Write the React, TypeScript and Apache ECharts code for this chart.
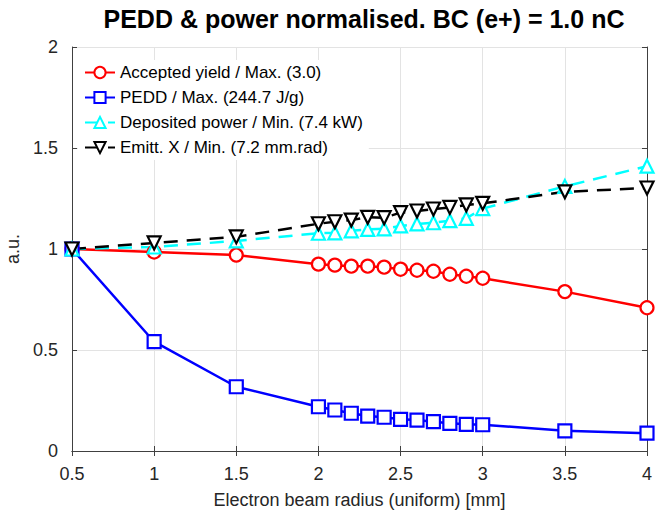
import React, { useEffect, useRef } from "react";
import * as echarts from "echarts";

const radius = [0.5, 1, 1.5, 2, 2.1, 2.2, 2.3, 2.4, 2.5, 2.6, 2.7, 2.8, 2.9, 3, 3.5, 4];
const acceptedYield = [1.0, 0.985, 0.97, 0.925, 0.92, 0.915, 0.915, 0.91, 0.9, 0.895, 0.89, 0.875, 0.865, 0.855, 0.789, 0.709];
const pedd = [1.0, 0.541, 0.318, 0.219, 0.203, 0.187, 0.173, 0.167, 0.157, 0.153, 0.145, 0.137, 0.132, 0.13, 0.1, 0.088];
const depPower = [1.0, 1.01, 1.04, 1.078, 1.08, 1.09, 1.097, 1.1, 1.114, 1.124, 1.13, 1.14, 1.152, 1.2, 1.31, 1.41];
const emittX = [1.0, 1.03, 1.06, 1.125, 1.135, 1.143, 1.157, 1.155, 1.18, 1.188, 1.198, 1.206, 1.218, 1.226, 1.283, 1.302];

const seriesNames = [
  "Accepted yield / Max. (3.0)",
  "PEDD / Max. (244.7 J/g)",
  "Deposited power / Min. (7.4 kW)",
  "Emitt. X / Min. (7.2 mm.rad)",
];

const pair = (ys: number[]) => radius.map((x, i) => [x, ys[i]]);

export default function App() {
  const ref = useRef<HTMLDivElement>(null);
  useEffect(() => {
    if (!ref.current) return;
    const chart = echarts.init(ref.current, undefined, { renderer: "svg" });
    const font = "Liberation Sans, Arial, Helvetica, sans-serif";
    const axisColor = "#404040";
    const mk = (
      name: string,
      ys: number[],
      color: string,
      symbol: string,
      dashed: boolean,
      rotate = 0
    ) => ({
      name,
      type: "line",
      data: pair(ys),
      symbol,
      symbolSize: 13,
      symbolRotate: rotate,
      showAllSymbol: true,
      lineStyle: { color, width: 2.5, type: dashed ? [14, 9] : "solid" },
      itemStyle: { color: "#fff", borderColor: color, borderWidth: 2.2 },
      emphasis: { disabled: true },
      z: 3,
    });
    chart.setOption({
      animation: false,
      backgroundColor: "#fff",
      textStyle: { fontFamily: font },
      title: {
        text: "PEDD & power normalised. BC (e+) = 1.0 nC",
        left: 359,
        textAlign: "center",
        top: 1,
        textStyle: { fontSize: 25, fontWeight: "bold", color: "#000", fontFamily: font },
      },
      grid: { left: 72, right: 9, top: 47, bottom: 66, outerBoundsMode: "none", containLabel: false },
      legend: {
        left: 78,
        top: 60,
        orient: "vertical",
        itemWidth: 30,
        itemHeight: 14,
        itemGap: 8,
        backgroundColor: "#fff",
        padding: [4, 6, 4, 6],
        textStyle: { fontSize: 17, color: "#000", fontFamily: font },
        data: seriesNames,
        selectedMode: false,
      },
      xAxis: [
        {
          type: "value",
          min: 0.5,
          max: 4,
          interval: 0.5,
          name: "Electron beam radius (uniform) [mm]",
          nameLocation: "middle",
          nameGap: 40,
          nameMoveOverlap: false,
          nameTextStyle: { fontSize: 18, color: "#262626" },
          axisLine: { lineStyle: { color: axisColor, width: 1 } },
          axisTick: { inside: true, length: 5, lineStyle: { color: axisColor } },
          axisLabel: { fontSize: 18, color: "#262626", margin: 14 },
          splitLine: { show: true, lineStyle: { color: "#e3e3e3", width: 1 } },
        },
        {
          type: "value",
          position: "top",
          min: 0.5,
          max: 4,
          interval: 0.5,
          axisLine: { show: true, lineStyle: { color: axisColor, width: 1 } },
          axisTick: { inside: true, length: 5, lineStyle: { color: axisColor } },
          axisLabel: { show: false },
          splitLine: { show: false },
        },
      ],
      yAxis: [
        {
          type: "value",
          min: 0,
          max: 2,
          interval: 0.5,
          name: "a.u.",
          nameLocation: "middle",
          nameGap: 50,
          nameMoveOverlap: false,
          nameTextStyle: { fontSize: 18, color: "#262626" },
          axisLine: { show: true, lineStyle: { color: axisColor, width: 1 } },
          axisTick: { show: true, inside: true, length: 5, lineStyle: { color: axisColor } },
          axisLabel: { fontSize: 18, color: "#262626", margin: 14 },
          splitLine: { show: true, lineStyle: { color: "#e3e3e3", width: 1 } },
        },
        {
          type: "value",
          position: "right",
          min: 0,
          max: 2,
          interval: 0.5,
          axisLine: { show: true, lineStyle: { color: axisColor, width: 1 } },
          axisTick: { show: true, inside: true, length: 5, lineStyle: { color: axisColor } },
          axisLabel: { show: false },
          splitLine: { show: false },
        },
      ],
      series: [
        mk(seriesNames[0], acceptedYield, "#ff0000", "circle", false),
        mk(seriesNames[1], pedd, "#0000ff", "rect", false),
        mk(seriesNames[2], depPower, "#00ffff", "triangle", true),
        mk(seriesNames[3], emittX, "#000000", "triangle", true, 180),
      ],
    });
    return () => chart.dispose();
  }, []);
  return <div ref={ref} style={{ width: 656, height: 517, position: "absolute", left: 0, top: 0 }} />;
}
